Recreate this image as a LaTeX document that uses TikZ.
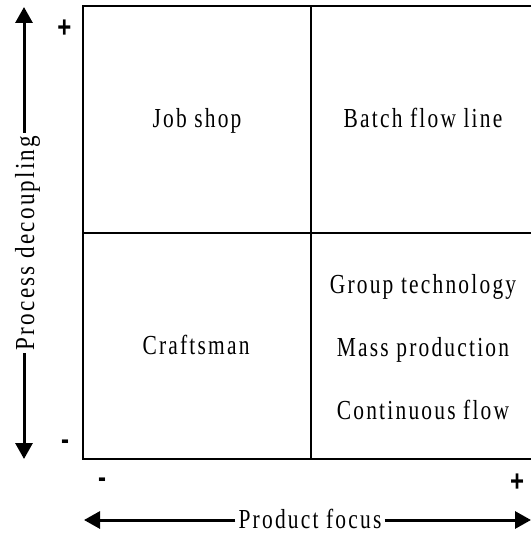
\documentclass[tikz,border=0pt]{standalone}
\usepackage{fontspec}
\usetikzlibrary{arrows.meta}
% condensed, tracked serif for the labels; condensed bold sans for the signs
\newfontfamily\lblfont[FakeStretch=0.78, LetterSpace=8]{Liberation Serif}
\newfontfamily\vlblfont[FakeStretch=0.84, LetterSpace=8]{Liberation Serif}
\newfontfamily\signfont[FakeStretch=0.8]{Liberation Sans}
\tikzset{
  lbl/.style={font=\lblfont\fontsize{27.5}{30}\selectfont, inner sep=0pt, anchor=base},
  axislbl/.style={lbl, inner xsep=3pt},
  sign/.style={font=\signfont\bfseries\fontsize{30}{32}\selectfont, inner sep=0pt, anchor=base},
  frame/.style={line width=2pt},
  axis/.style={line width=3pt, -{Triangle[width=17pt,length=16pt]}},
}
\begin{document}
\begin{tikzpicture}[x=1pt, y=-1pt]
  \useasboundingbox (0,0) rectangle (531,534);
  \clip (0,0) rectangle (531,534);

  % quadrant frame (open on the right side)
  \coordinate (tr) at (531,6);
  \coordinate (tl) at (83,6);
  \coordinate (bl) at (83,459);
  \coordinate (br) at (531,459);
  \coordinate (midtop) at (311,6);
  \coordinate (midbot) at (311,459);
  \coordinate (midleft) at (83,233);
  \coordinate (midright) at (531,233);
  \draw[frame] (tr) -- (tl) -- (bl) -- (br);
  \draw[frame] (midtop) -- (midbot);
  \draw[frame] (midleft) -- (midright);

  % quadrant labels
  \node[lbl] (job)   at (197,128) {Job shop};
  \node[lbl] (batch) at (423,128) {Batch flow line};
  \node[lbl] (craft) at (196,354) {Craftsman};
  \node[lbl] (group) at (423,293) {Group technology};
  \node[lbl] (mass)  at (423,356) {Mass production};
  \node[lbl] (cont)  at (423,419) {Continuous flow};

  % vertical axis
  \coordinate (vtop) at (24,7);
  \coordinate (vbot) at (24,459);
  \node[axislbl, rotate=90, font=\vlblfont\fontsize{27.5}{30}\selectfont]
    (pd) at (34,243) {Process decoupling};
  \draw[axis] (vtop |- pd.east) -- (vtop);
  \draw[axis] (vbot |- pd.west) -- (vbot);

  % horizontal axis
  \coordinate (hl) at (84,520);
  \coordinate (hr) at (531,520);
  \node[axislbl] (pf) at (310,528) {Product focus};
  \draw[axis] (hl -| pf.west) -- (hl);
  \draw[axis] (hr -| pf.east) -- (hr);

  % axis signs
  \node[sign] (vplus)  at (64.5,38) {+};
  \node[sign] (vminus) at (65,449.5) {-};
  \node[sign] (hminus) at (102,487.5) {-};
  \node[sign] (hplus)  at (517,491.5) {+};
\end{tikzpicture}
\end{document}
